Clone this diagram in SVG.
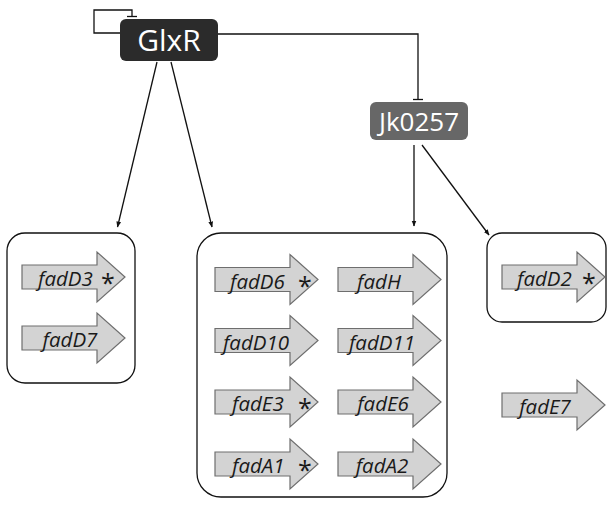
<svg xmlns="http://www.w3.org/2000/svg" xmlns:xlink="http://www.w3.org/1999/xlink" width="609" height="506" viewBox="0 0 609 506">
  <style>
    .reg { stroke: none; }
    .regtxt { font-family: "Open Sans", "Liberation Sans", sans-serif; fill: #ffffff; text-anchor: middle; }
    .grp { fill: none; stroke: #111111; stroke-width: 1.3; }
    .gene { fill: #d3d3d3; stroke: #6e6e6e; stroke-width: 1.2; }
    .gtxt { font-family: "Open Sans", "Liberation Sans", sans-serif; font-style: italic; font-size: 20.5px; fill: #1a1a1a; }
    .mid { text-anchor: middle; }
    .star { font-family: "Open Sans", "Liberation Sans", sans-serif; font-size: 25px; fill: #1a1a1a; text-anchor: middle; }
    .edge { fill: none; stroke: #111111; stroke-width: 1.3; }
  </style>
  <defs>
    <!-- block arrow for a gene, anchored at left edge / vertical centre -->
    <path id="genearrow" class="gene" d="M0,-12 H75 V-25 L103,0 L75,25 V12 H0 Z"/>
    <marker id="arrowhead" viewBox="0 0 10 10" refX="9" refY="5" markerWidth="6" markerHeight="6" orient="auto" markerUnits="userSpaceOnUse">
      <path d="M0,1 L10,5 L0,9 Z" fill="#111111"/>
    </marker>
  </defs>

  <!-- connectors -->
  <g id="connectors">
    <!-- GlxR autorepression -->
    <path class="edge" d="M120,33 H94 V10 H132 V16"/>
    <line class="edge" x1="127" y1="16.5" x2="137" y2="16.5"/>
    <!-- GlxR represses Jk0257 -->
    <path class="edge" d="M218,34 H418 V99"/>
    <line class="edge" x1="413" y1="99.5" x2="423" y2="99.5"/>
    <!-- GlxR targets -->
    <line class="edge" x1="157" y1="62" x2="117.5" y2="227" marker-end="url(#arrowhead)"/>
    <line class="edge" x1="171" y1="62" x2="212" y2="227" marker-end="url(#arrowhead)"/>
    <!-- Jk0257 targets -->
    <line class="edge" x1="414" y1="145" x2="414" y2="226" marker-end="url(#arrowhead)"/>
    <line class="edge" x1="422" y1="145" x2="489" y2="235" marker-end="url(#arrowhead)"/>
  </g>

  <!-- regulators -->
  <g id="GlxR">
    <rect class="reg" x="120" y="19" width="98" height="42" rx="6" fill="#2b2b2b"/>
    <text class="regtxt" x="169" y="51" font-size="30">GlxR</text>
  </g>
  <g id="Jk0257">
    <rect class="reg" x="370" y="102" width="98" height="38" rx="6" fill="#676767"/>
    <text class="regtxt" x="419" y="130.5" font-size="26">Jk0257</text>
  </g>

  <!-- regulon boxes -->
  <g id="groupLeft">
    <rect class="grp" x="7" y="233" width="128" height="150" rx="18"/>
  </g>
  <g id="groupMiddle">
    <rect class="grp" x="197" y="233" width="250" height="264" rx="24"/>
  </g>
  <g id="groupRight">
    <rect class="grp" x="487" y="233" width="119" height="89" rx="15"/>
  </g>

  <!-- genes -->
  <g id="fadD3">
    <use xlink:href="#genearrow" x="22" y="277"/>
    <text class="gtxt" x="38" y="286">fadD3</text>
    <text class="star" x="108" y="292">*</text>
  </g>
  <g id="fadD7">
    <use xlink:href="#genearrow" x="22" y="338"/>
    <text class="gtxt mid" x="70" y="347">fadD7</text>
  </g>

  <g id="fadD6">
    <use xlink:href="#genearrow" x="215" y="279.5"/>
    <text class="gtxt" x="230" y="288.5">fadD6</text>
    <text class="star" x="305" y="294.5">*</text>
  </g>
  <g id="fadD10">
    <use xlink:href="#genearrow" x="215" y="340.5"/>
    <text class="gtxt mid" x="256" y="349.5">fadD10</text>
  </g>
  <g id="fadE3">
    <use xlink:href="#genearrow" x="215" y="402"/>
    <text class="gtxt" x="232" y="411">fadE3</text>
    <text class="star" x="305" y="417">*</text>
  </g>
  <g id="fadA1">
    <use xlink:href="#genearrow" x="215" y="464"/>
    <text class="gtxt" x="232" y="473">fadA1</text>
    <text class="star" x="305" y="479">*</text>
  </g>

  <g id="fadH">
    <use xlink:href="#genearrow" x="338" y="279.5"/>
    <text class="gtxt mid" x="379" y="288.5">fadH</text>
  </g>
  <g id="fadD11">
    <use xlink:href="#genearrow" x="338" y="340.5"/>
    <text class="gtxt mid" x="382" y="349.5">fadD11</text>
  </g>
  <g id="fadE6">
    <use xlink:href="#genearrow" x="338" y="402"/>
    <text class="gtxt mid" x="383" y="411">fadE6</text>
  </g>
  <g id="fadA2">
    <use xlink:href="#genearrow" x="338" y="464"/>
    <text class="gtxt mid" x="382" y="473">fadA2</text>
  </g>

  <g id="fadD2">
    <use xlink:href="#genearrow" x="502" y="277"/>
    <text class="gtxt" x="517" y="286">fadD2</text>
    <text class="star" x="589" y="292">*</text>
  </g>
  <g id="fadE7">
    <use xlink:href="#genearrow" x="502" y="405"/>
    <text class="gtxt mid" x="545" y="414">fadE7</text>
  </g>
</svg>
